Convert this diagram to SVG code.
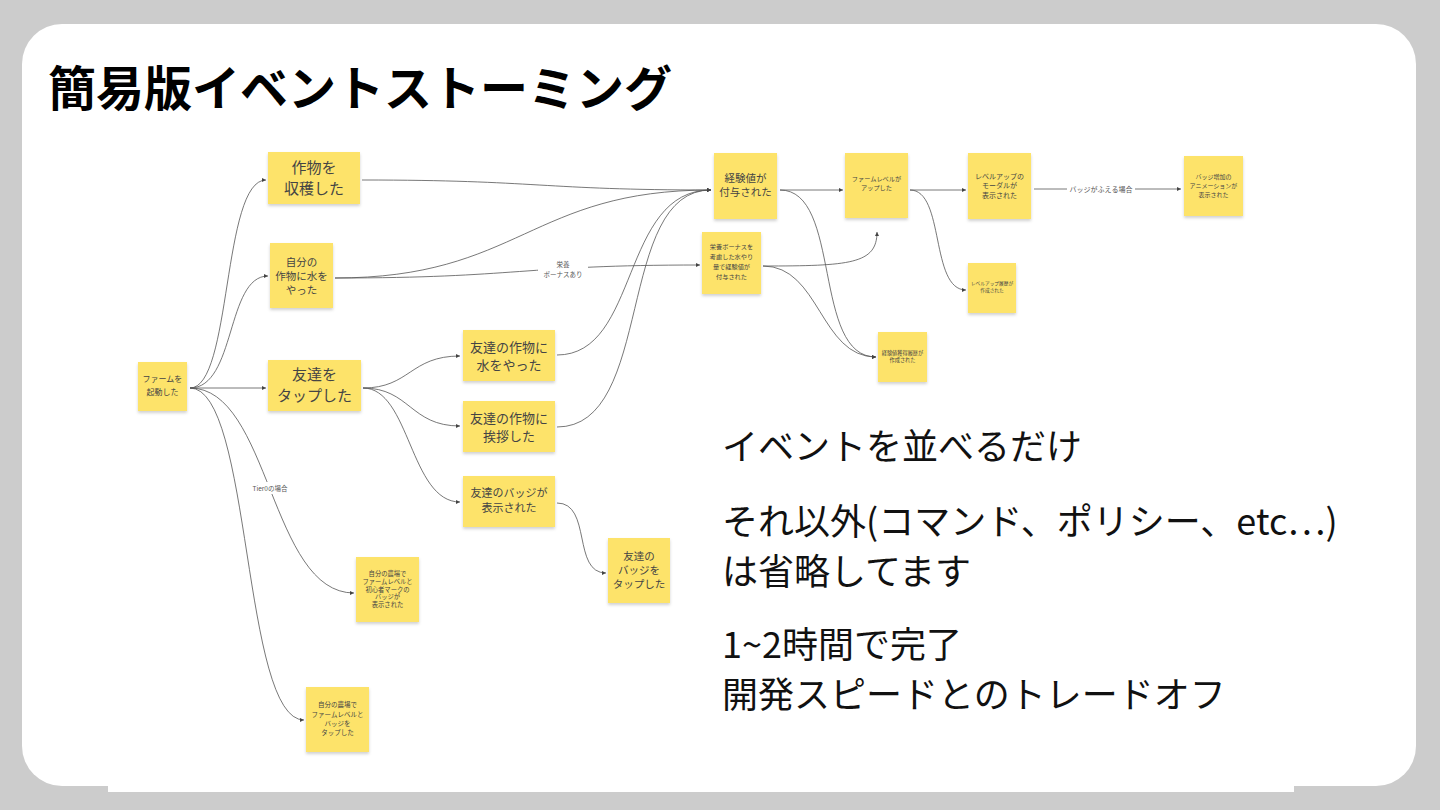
<svg xmlns="http://www.w3.org/2000/svg" width="1440" height="810" viewBox="0 0 1440 810">
<defs>
<filter id="sh" x="-20%" y="-20%" width="140%" height="150%">
<feDropShadow dx="0" dy="2" stdDeviation="1.5" flood-color="#000" flood-opacity="0.18"/>
</filter>
<marker id="ar" viewBox="0 0 6 6" refX="6" refY="3" markerWidth="4" markerHeight="4" markerUnits="userSpaceOnUse" orient="auto">
<path d="M0,0 L6,3 L0,6 z" fill="#444"/>
</marker>
</defs>
<style>
.st{fill:#fde36a;filter:url(#sh)}
.tx{font-family:"Noto Sans CJK JP","Noto Sans",sans-serif;fill:#444;text-anchor:middle}
.cn{fill:none;stroke:#555;stroke-width:0.8;marker-end:url(#ar)}
.ln{fill:none;stroke:#555;stroke-width:0.8}
.lb{font-family:"Noto Sans CJK JP","Noto Sans",sans-serif;fill:#555;text-anchor:middle}
.big{font-family:"Noto Sans CJK JP","Noto Sans",sans-serif;fill:#111;font-size:36px}
</style>
<rect x="0" y="0" width="1440" height="810" fill="#cccccc"/>
<rect x="22" y="24" width="1394" height="762" rx="40" fill="#ffffff"/>
<rect x="108" y="740" width="1186" height="52" fill="#ffffff"/>
<text x="48" y="106" font-family="'Noto Sans CJK JP','Noto Sans',sans-serif" font-size="48" font-weight="bold" fill="#000">簡易版イベントストーミング</text>

<g id="connectors">
<path class="cn" d="M190,388 C232,388 222,180 266,180"/>
<path class="cn" d="M190,388 C236,388 226,276 268,276"/>
<path class="cn" d="M190,388 L266,388"/>
<path class="cn" d="M190,388 C270,388 270,593 354,593"/>
<path class="cn" d="M190,388 C252,388 242,720 304,720"/>
<path class="cn" d="M362,180 C540,180 540,190 711,190"/>
<path class="cn" d="M335,278 C520,278 530,190 711,190"/>
<path class="cn" d="M335,278 C520,278 520,265 700,265"/>
<path class="cn" d="M557,355 C640,355 620,190 711,190"/>
<path class="cn" d="M557,427 C655,427 615,190 711,190"/>
<path class="cn" d="M363,388 C410,388 410,356 460,356"/>
<path class="cn" d="M363,388 C410,388 410,426 460,426"/>
<path class="cn" d="M363,388 C410,388 410,502 460,502"/>
<path class="cn" d="M557,503 C592,503 572,573 606,573"/>
<path class="cn" d="M780,190 L843,190"/>
<path class="cn" d="M780,190 C842,190 812,357 876,357"/>
<path class="cn" d="M763,266 C850,266 877,264 877,232"/>
<path class="cn" d="M763,266 C820,266 820,357 876,357"/>
<path class="cn" d="M910,190 L966,190"/>
<path class="cn" d="M910,190 C945,190 930,290 966,290"/>
<path class="ln" d="M1034,189 L1067,189"/>
<path class="cn" d="M1135,189 L1181,189"/>
<rect x="538" y="258" width="50" height="21" fill="#fff"/>
<text class="lb" x="563" y="267" font-size="6.5">栄養</text>
<text class="lb" x="563" y="277" font-size="6.5">ボーナスあり</text>
<rect x="251" y="482" width="39" height="12" fill="#fff"/>
<text class="lb" x="270" y="491" font-size="6.5">Tier0の場合</text>
<text class="lb" x="1101" y="191.5" font-size="7">バッジがふえる場合</text>
</g>

<g id="n-farm-start"><rect class="st" x="138" y="362" width="49" height="49"/>
<text class="tx" x="162.5" y="382" font-size="8">ファームを</text><text class="tx" x="162.5" y="395" font-size="8">起動した</text></g>

<g id="n-harvest"><rect class="st" x="268" y="152" width="92" height="52"/>
<text class="tx" x="314" y="173" font-size="15">作物を</text><text class="tx" x="314" y="194" font-size="15">収穫した</text></g>

<g id="n-water-own"><rect class="st" x="270" y="243" width="63" height="65"/>
<text class="tx" x="301.5" y="266" font-size="10.5">自分の</text><text class="tx" x="301.5" y="280" font-size="10.5">作物に水を</text><text class="tx" x="301.5" y="294" font-size="10.5">やった</text></g>

<g id="n-tap-friend"><rect class="st" x="268" y="360" width="93" height="51"/>
<text class="tx" x="314.5" y="380" font-size="15">友達を</text><text class="tx" x="314.5" y="401" font-size="15">タップした</text></g>

<g id="n-water-friend"><rect class="st" x="463" y="330" width="92" height="51"/>
<text class="tx" x="509" y="352" font-size="13">友達の作物に</text><text class="tx" x="509" y="370" font-size="13">水をやった</text></g>

<g id="n-greet-friend"><rect class="st" x="463" y="401" width="92" height="51"/>
<text class="tx" x="509" y="423" font-size="13">友達の作物に</text><text class="tx" x="509" y="441" font-size="13">挨拶した</text></g>

<g id="n-friend-badge"><rect class="st" x="463" y="476" width="92" height="51"/>
<text class="tx" x="509" y="497" font-size="11">友達のバッジが</text><text class="tx" x="509" y="512" font-size="11">表示された</text></g>

<g id="n-tap-friend-badge"><rect class="st" x="608" y="538" width="62" height="65"/>
<text class="tx" x="639" y="560" font-size="10.5">友達の</text><text class="tx" x="639" y="574" font-size="10.5">バッジを</text><text class="tx" x="639" y="588" font-size="10.5">タップした</text></g>

<g id="n-own-badge-shown"><rect class="st" x="356" y="557" width="63" height="65"/>
<text class="tx" x="387.5" y="576.2" font-size="6.3">自分の農場で</text><text class="tx" x="387.5" y="583.9" font-size="6.3">ファームレベルと</text><text class="tx" x="387.5" y="591.6" font-size="6.3">初心者マークの</text><text class="tx" x="387.5" y="599.3" font-size="6.3">バッジが</text><text class="tx" x="387.5" y="607" font-size="6.3">表示された</text></g>

<g id="n-own-badge-tap"><rect class="st" x="306" y="687" width="63" height="65"/>
<text class="tx" x="337.5" y="707.3" font-size="6.5">自分の農場で</text><text class="tx" x="337.5" y="716.6" font-size="6.5">ファームレベルと</text><text class="tx" x="337.5" y="725.9" font-size="6.5">バッジを</text><text class="tx" x="337.5" y="735.2" font-size="6.5">タップした</text></g>

<g id="n-exp"><rect class="st" x="714" y="153" width="63" height="66"/>
<text class="tx" x="745.5" y="182" font-size="10.5">経験値が</text><text class="tx" x="745.5" y="196" font-size="10.5">付与された</text></g>

<g id="n-exp-bonus"><rect class="st" x="702" y="232" width="59" height="62"/>
<text class="tx" x="731.5" y="249.3" font-size="6.2">栄養ボーナスを</text><text class="tx" x="731.5" y="259.3" font-size="6.2">考慮した水やり</text><text class="tx" x="731.5" y="269.3" font-size="6.2">量で経験値が</text><text class="tx" x="731.5" y="279.3" font-size="6.2">付与された</text></g>

<g id="n-levelup"><rect class="st" x="845" y="153" width="63" height="65"/>
<text class="tx" x="876.5" y="181" font-size="6.2">ファームレベルが</text><text class="tx" x="876.5" y="190.3" font-size="6.2">アップした</text></g>

<g id="n-modal"><rect class="st" x="968" y="153" width="63" height="66"/>
<text class="tx" x="999.5" y="178.5" font-size="7">レベルアップの</text><text class="tx" x="999.5" y="188" font-size="7">モーダルが</text><text class="tx" x="999.5" y="197.5" font-size="7">表示された</text></g>

<g id="n-badge-anim"><rect class="st" x="1184" y="156" width="59" height="60"/>
<text class="tx" x="1213.5" y="179" font-size="6">バッジ増加の</text><text class="tx" x="1213.5" y="188" font-size="6">アニメーションが</text><text class="tx" x="1213.5" y="197" font-size="6">表示された</text></g>

<g id="n-levelup-log"><rect class="st" x="968" y="263" width="48" height="50"/>
<text class="tx" x="992" y="284.6" font-size="4.7">レベルアップ履歴が</text><text class="tx" x="992" y="291.6" font-size="4.7">作成された</text></g>

<g id="n-exp-log"><rect class="st" x="878" y="332" width="49" height="50"/>
<text class="tx" x="902.5" y="354.8" font-size="5.2">経験値獲得履歴が</text><text class="tx" x="902.5" y="361.8" font-size="5.2">作成された</text></g>

<g id="notes">
<text class="big" x="722" y="460">イベントを並べるだけ</text>
<text class="big" x="722" y="535">それ以外(コマンド、ポリシー、etc…)</text>
<text class="big" x="722" y="585">は省略してます</text>
<text class="big" x="722" y="658">1~2時間で完了</text>
<text class="big" x="722" y="708">開発スピードとのトレードオフ</text>
</g>
</svg>
